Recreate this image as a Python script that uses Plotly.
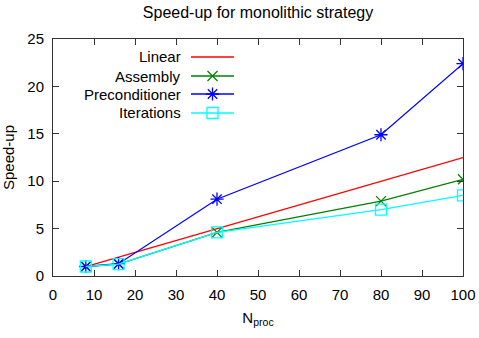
import plotly.graph_objects as go

nproc = [8, 16, 40, 80, 100]
linear = [1.0, 2.0, 5.0, 10.0, 12.5]
assembly = [1.0, 1.25, 4.6, 7.9, 10.2]
precond = [1.0, 1.3, 8.1, 14.9, 22.4]
iterations = [1.0, 1.25, 4.6, 7.0, 8.5]

names = ["Linear", "Assembly", "Preconditioner", "Iterations"]
colors = ["#ff0000", "#008000", "#0000ff", "#00ffff"]
symbols = [None, "x-thin-open", "asterisk-open", "square-open"]
msizes = [0, 10, 11, 11]
series = [linear, assembly, precond, iterations]

W, H = 479, 338
ml, mr, mt, mb = 53, 16, 39, 62
pw, ph = W - ml - mr, H - mt - mb
FS = 15

fig = go.Figure()
for name, col, sym, ms, ys in zip(names, colors, symbols, msizes, series):
    if sym is None:
        fig.add_trace(go.Scatter(x=nproc, y=ys, mode="lines", line=dict(color=col, width=1.3),
                                 showlegend=False))
    else:
        fig.add_trace(go.Scatter(x=nproc, y=ys, mode="lines+markers", line=dict(color=col, width=1.3),
                                 marker=dict(symbol=sym, size=ms, color=col, line=dict(color=col, width=1.3)),
                                 showlegend=False))

# custom gnuplot-style legend (text right, sample at right)
key_rows_px = [57, 76, 94, 113]
key_x0_px, key_x1_px, text_x_px = 191, 234, 183
for name, col, sym, ms, ypx in zip(names, colors, symbols, msizes, key_rows_px):
    yf = (H - mb - ypx) / ph
    x0 = (key_x0_px - ml) / pw
    x1 = (key_x1_px - ml) / pw
    fig.add_trace(go.Scatter(x=[x0, x1], y=[yf, yf], mode="lines", line=dict(color=col, width=1.3),
                             xaxis="x2", yaxis="y2", showlegend=False, hoverinfo="skip"))
    if sym is not None:
        fig.add_trace(go.Scatter(x=[(x0 + x1) / 2], y=[yf], mode="markers",
                                 marker=dict(symbol=sym, size=ms, color=col, line=dict(color=col, width=1.3)),
                                 xaxis="x2", yaxis="y2", showlegend=False, hoverinfo="skip"))
    fig.add_annotation(x=(text_x_px - ml) / pw, y=yf, xref="paper", yref="paper", text=name,
                       showarrow=False, xanchor="right", yanchor="middle",
                       font=dict(size=FS, color="#000000"))

axis_common = dict(showgrid=False, zeroline=False, showline=True, linecolor="#333333", linewidth=1,
                   mirror="ticks", ticks="inside", ticklen=6, tickwidth=1, tickcolor="#333333",
                   tickfont=dict(size=FS, color="#000000"), automargin=False)

fig.update_layout(
    width=W, height=H,
    margin=dict(l=ml, r=mr, t=mt, b=mb),
    paper_bgcolor="white", plot_bgcolor="white",
    font=dict(family="Liberation Sans, Arial, sans-serif", size=FS, color="#000000"),
    title=dict(text="Speed-up for monolithic strategy", x=(ml + pw / 2) / W, xanchor="center",
               y=1 - 12 / H, yanchor="middle", font=dict(size=16)),
    xaxis=dict(range=[0, 100], dtick=10, tick0=0, ticklabelstandoff=5,
               title=dict(text="N<sub>proc</sub>", font=dict(size=FS), standoff=10), **axis_common),
    yaxis=dict(range=[0, 25], dtick=5, tick0=0, ticklabelstandoff=5,
               title=dict(text="Speed-up", font=dict(size=FS), standoff=12), **axis_common),
    xaxis2=dict(range=[0, 1], overlaying="x", visible=False, fixedrange=True),
    yaxis2=dict(range=[0, 1], overlaying="y", visible=False, fixedrange=True),
)

fig.write_html("out.html", config={"displayModeBar": False},
               post_script="document.body.style.margin='0';document.body.style.overflow='hidden';")
